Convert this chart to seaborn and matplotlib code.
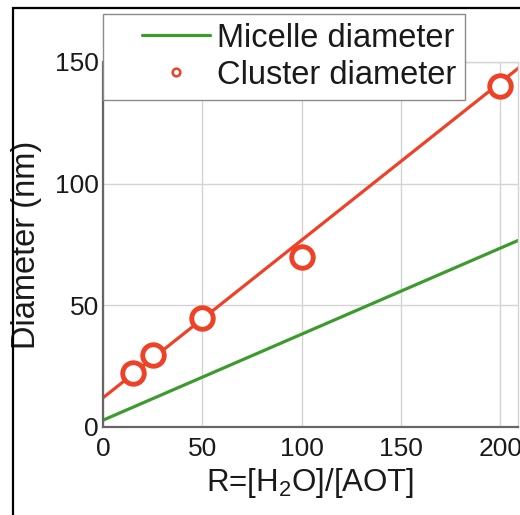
import numpy as np
import pandas as pd
import matplotlib
matplotlib.use('Agg')
import matplotlib.pyplot as plt
import seaborn as sns
from matplotlib.lines import Line2D
from matplotlib.legend_handler import HandlerLine2D
from matplotlib.patches import Rectangle
from matplotlib.ticker import MultipleLocator

# ---- data ----
ratio_R = [15, 25, 50, 100, 200]
cluster_diameter = [22, 29.5, 45, 70, 140]
micelle_R = [0, 210]
micelle_diameter = [2.8, 77]
fit_R = [0, 210]
fit_diameter = [12, 148]

x_ticks = [0, 50, 100, 150, 200]
y_ticks = [0, 50, 100, 150]
legend_labels = ['Micelle diameter', 'Cluster diameter']
x_label = r'R=[H$_\mathregular{2}$O]/[AOT]'
y_label = 'Diameter (nm)'

GREEN = '#3d9a2d'
RED = '#ee4126'

sns.set_theme(style='white')
plt.rcParams['font.family'] = ['Liberation Sans', 'DejaVu Sans']
plt.rcParams['mathtext.fontset'] = 'custom'
plt.rcParams['mathtext.rm'] = 'Liberation Sans'
plt.rcParams['mathtext.it'] = 'Liberation Sans:italic'

fig = plt.figure(figsize=(5.2, 5.15), dpi=100)
W, H = 520, 515
ax = fig.add_axes([103 / W, 1 - 427 / H, 415 / W, 365 / H])

micelle_df = pd.DataFrame({'R': micelle_R, 'D': micelle_diameter})
fit_df = pd.DataFrame({'R': fit_R, 'D': fit_diameter})
cluster_df = pd.DataFrame({'R': ratio_R, 'D': cluster_diameter})

sns.lineplot(data=micelle_df, x='R', y='D', color=GREEN, lw=2.3, ax=ax, zorder=2)
sns.lineplot(data=fit_df, x='R', y='D', color=RED, lw=2.3, ax=ax, zorder=2)
sns.scatterplot(data=cluster_df, x='R', y='D', marker='o', s=240,
                facecolor='white', edgecolor=RED, linewidth=3.5, ax=ax, zorder=3)

ax.set_xlim(0, 209)
ax.set_ylim(0, 150)
ax.set_xticks(x_ticks)
ax.set_yticks(y_ticks)
ax.xaxis.set_minor_locator(MultipleLocator(10))
ax.yaxis.set_minor_locator(MultipleLocator(10))
ax.grid(True, which='major', color='#d4d4d4', lw=1.0)
ax.set_axisbelow(True)
ax.tick_params(which='major', direction='in', length=4, width=1, color='#777777',
               labelsize=19, labelcolor='#1a1a1a')
ax.tick_params(axis='x', which='major', pad=7)
ax.tick_params(axis='y', which='major', pad=3)
ax.tick_params(which='minor', direction='in', length=3, width=1, color='#777777')
ax.tick_params(top=False, right=False, which='both')
for s in ['left', 'bottom']:
    ax.spines[s].set_color('#666666')
    ax.spines[s].set_linewidth(1.6)
for s in ['top', 'right']:
    ax.spines[s].set_color('#d4d4d4')
    ax.spines[s].set_linewidth(1.0)

ax.set_xlabel(x_label, fontsize=22.5, color='#1a1a1a', labelpad=4)
ax.set_ylabel(y_label, fontsize=23.5, color='#1a1a1a', labelpad=9)


class LeadHandler(HandlerLine2D):
    def __init__(self, lead=0.0, **kw):
        super().__init__(**kw)
        self.lead = lead

    def get_xdata(self, legend, xdescent, ydescent, width, height, fontsize):
        x0 = -xdescent + self.lead * width
        x1 = -xdescent + width
        return [x0, x1], [0.5 * (x0 + x1)]


h_line = Line2D([], [], color=GREEN, lw=2.3)
h_mark = Line2D([], [], ls='none', marker='o', mfc='none', mec=RED, mew=1.8, ms=5.5)
leg = fig.legend([h_line, h_mark], legend_labels, loc='upper left',
                 bbox_to_anchor=(103 / W, 1 - 14 / H), bbox_transform=fig.transFigure,
                 borderaxespad=0, fontsize=23.5, borderpad=0.27, handlelength=3.0,
                 handletextpad=0.21, labelspacing=0.18, fancybox=False, framealpha=1,
                 edgecolor='#8a8a8a',
                 handler_map={h_line: LeadHandler(lead=0.31), h_mark: LeadHandler(lead=0.31)})
leg.get_frame().set_linewidth(1.0)
for t in leg.get_texts():
    t.set_color('#1a1a1a')

fig.patches.append(Rectangle((13 / W, -0.1), 1.2, 1.1 - 8 / H, transform=fig.transFigure,
                             fill=False, edgecolor='black', lw=1.6, zorder=10))

fig.savefig('out.png', dpi=100)
